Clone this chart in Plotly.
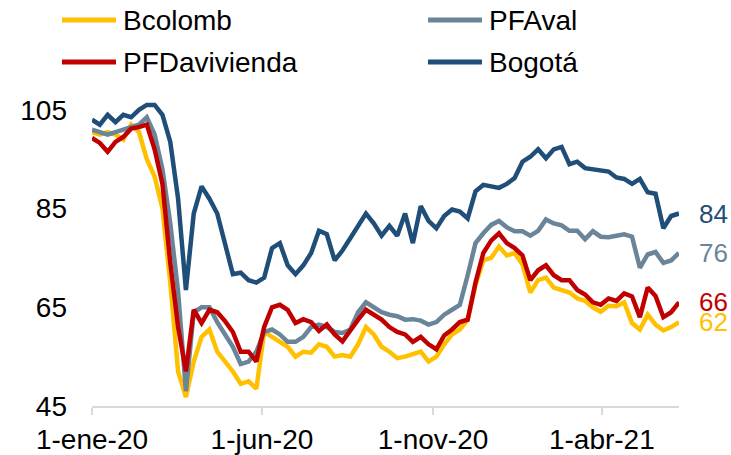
import pandas as pd
import plotly.graph_objects as go

dates = pd.date_range("2020-01-01", periods=76, freq="7D")

bcolomb = [100.5, 100, 100.5, 100, 99, 102, 100.5, 95, 91.5, 85,
           70, 52, 46.8, 54, 59, 60.5, 56, 54, 52, 49.5,
           50, 48.5, 60, 59, 58.1, 57, 55, 56, 55.8, 57.5,
           57, 55, 55.3, 55, 57.5, 61, 59.5, 57, 56, 54.7,
           55, 55.5, 56, 54, 55, 57.5, 59.5, 60.5, 62.5, 69.5,
           74.5, 75, 77.3, 75.5, 76, 73.7, 68, 70.5, 71, 69,
           68.4, 68, 66.8, 66.3, 65, 64.1, 65.3, 65.2, 66, 61.8,
           60.5, 63.5, 61.5, 60.3, 61, 62]

pfaval = [101, 100.5, 100, 100.5, 101, 101.5, 102, 103.5, 100, 93,
          82, 68.2, 48, 64, 65, 65, 62, 59.5, 57, 53.5,
          54, 56, 60, 60.5, 59.5, 58, 58, 59, 61, 61.5,
          61, 60, 59.8, 60.5, 64, 66, 65, 64, 63.5, 63.2,
          62.5, 62.6, 62.3, 61.5, 62, 63.5, 64.5, 65.5, 71.5, 78,
          80, 81.7, 82.5, 81.2, 80.4, 80.4, 79.5, 80.5, 82.8, 82,
          81.6, 80.5, 80.5, 78.8, 80.4, 79.3, 79.2, 79.5, 79.8, 79.3,
          73, 75.7, 76.2, 74, 74.5, 76]

pfdavivienda = [99.3, 98.3, 96.5, 98.5, 99.5, 101.2, 101.5, 102, 97, 90,
                74, 61, 52, 64.5, 61.8, 64.5, 64, 62.2, 60, 56,
                56, 54, 61, 65, 65.5, 64.5, 61.8, 62.6, 62, 60.2,
                61.5, 59.5, 58.1, 60.5, 62.5, 64.5, 63.5, 62.5, 61, 60,
                59.5, 58, 59, 57.5, 56.5, 59.3, 60.5, 62, 62.5, 70,
                76, 78.5, 80, 78, 77, 75.5, 70.5, 72.5, 73.5, 71.5,
                70.5, 70.5, 68.5, 67.6, 66, 65.5, 66.8, 66.3, 67.8, 67.2,
                63, 69, 67.3, 63, 64, 66]

bogota = [103, 102, 104, 102.5, 104, 103.5, 105, 106, 106, 104,
          98.5, 87, 68.5, 84, 89.5, 87, 84, 77.5, 71.7, 72,
          70.5, 70, 71, 77, 78, 73.5, 71.7, 73.5, 76, 80.5,
          79.8, 74.5, 76.5, 79, 81.5, 84, 82, 79.5, 81.5, 79.5,
          84, 78, 85.5, 82.5, 81, 83.5, 84.8, 84.4, 83, 88.5,
          89.8, 89.5, 89.2, 90, 91.2, 94.5, 95.5, 97, 95.2, 97,
          97.5, 94, 94.5, 93.2, 93, 92.6, 92.5, 91.3, 91, 90,
          91, 88.3, 88, 81, 83.5, 84]

series_names = ["Bcolomb", "PFAval", "PFDavivienda", "Bogotá"]
series_values = [bcolomb, pfaval, pfdavivienda, bogota]
colors = ["#FFC000", "#6A8499", "#C00000", "#1F4E79"]

tick_dates = ["2020-01-01", "2020-06-01", "2020-11-01", "2021-04-01"]
tick_labels = ["1-ene-20", "1-jun-20", "1-nov-20", "1-abr-21"]
y_ticks = [45, 65, 85, 105]

FONT = "Liberation Sans, Arial, sans-serif"
W, H = 731, 455
ML, MR, MT, MB = 92, 52, 100, 49
PW, PH = W - ML - MR, H - MT - MB


def px_to_paper(px, py):
    return (px - ML) / PW, (H - MB - py) / PH


fig = go.Figure()
for name, vals, col in zip(series_names, series_values, colors):
    fig.add_trace(go.Scatter(x=dates, y=vals, name=name, mode="lines", showlegend=False,
                             line=dict(color=col, width=4.5)))

# end-of-line value labels
for name, vals, col in zip(series_names, series_values, colors):
    fig.add_annotation(x=dates[-1], y=vals[-1], text=str(round(vals[-1])),
                       xanchor="left", yanchor="middle", xshift=18,
                       showarrow=False, font=dict(size=26, color=col, family=FONT))

# legend in two columns (drawn as layout decorations)
legend_slots = [(62, 20), (428, 20), (62, 62), (428, 62)]  # Bcolomb, PFAval, PFDavivienda, Bogotá
for name, col, (lx, ly) in zip(series_names, colors, legend_slots):
    x0, y0 = px_to_paper(lx, ly)
    x1, _ = px_to_paper(lx + 54, ly)
    xt, _ = px_to_paper(lx + 59, ly)
    fig.add_shape(type="line", xref="paper", yref="paper", x0=x0, x1=x1, y0=y0, y1=y0,
                  line=dict(color=col, width=5))
    fig.add_annotation(xref="paper", yref="paper", x=xt, y=y0, text=name,
                       xanchor="left", yanchor="middle", showarrow=False,
                       font=dict(size=28, color="#000000", family=FONT))

fig.update_layout(
    width=W, height=H,
    margin=dict(l=ML, r=MR, t=MT, b=MB),
    paper_bgcolor="white", plot_bgcolor="white",
    font=dict(family=FONT, size=28, color="#000000"),
    showlegend=False,
    xaxis=dict(range=[dates[0], dates[-1]], tickvals=tick_dates, ticktext=tick_labels,
               showgrid=False, zeroline=False, showline=True, linecolor="#D9D9D9",
               linewidth=2, ticks="outside", ticklen=7, tickwidth=2, tickcolor="#D9D9D9",
               tickfont=dict(size=28, family=FONT), automargin=False),
    yaxis=dict(range=[45, 107], tickvals=y_ticks, showgrid=False, zeroline=False,
               showline=False, ticks="", ticklabelstandoff=24,
               tickfont=dict(size=28, family=FONT), automargin=False),
)

fig.write_html("out.html", config={"displayModeBar": False},
               post_script="document.body.style.margin='0';document.body.style.overflow='hidden';")
